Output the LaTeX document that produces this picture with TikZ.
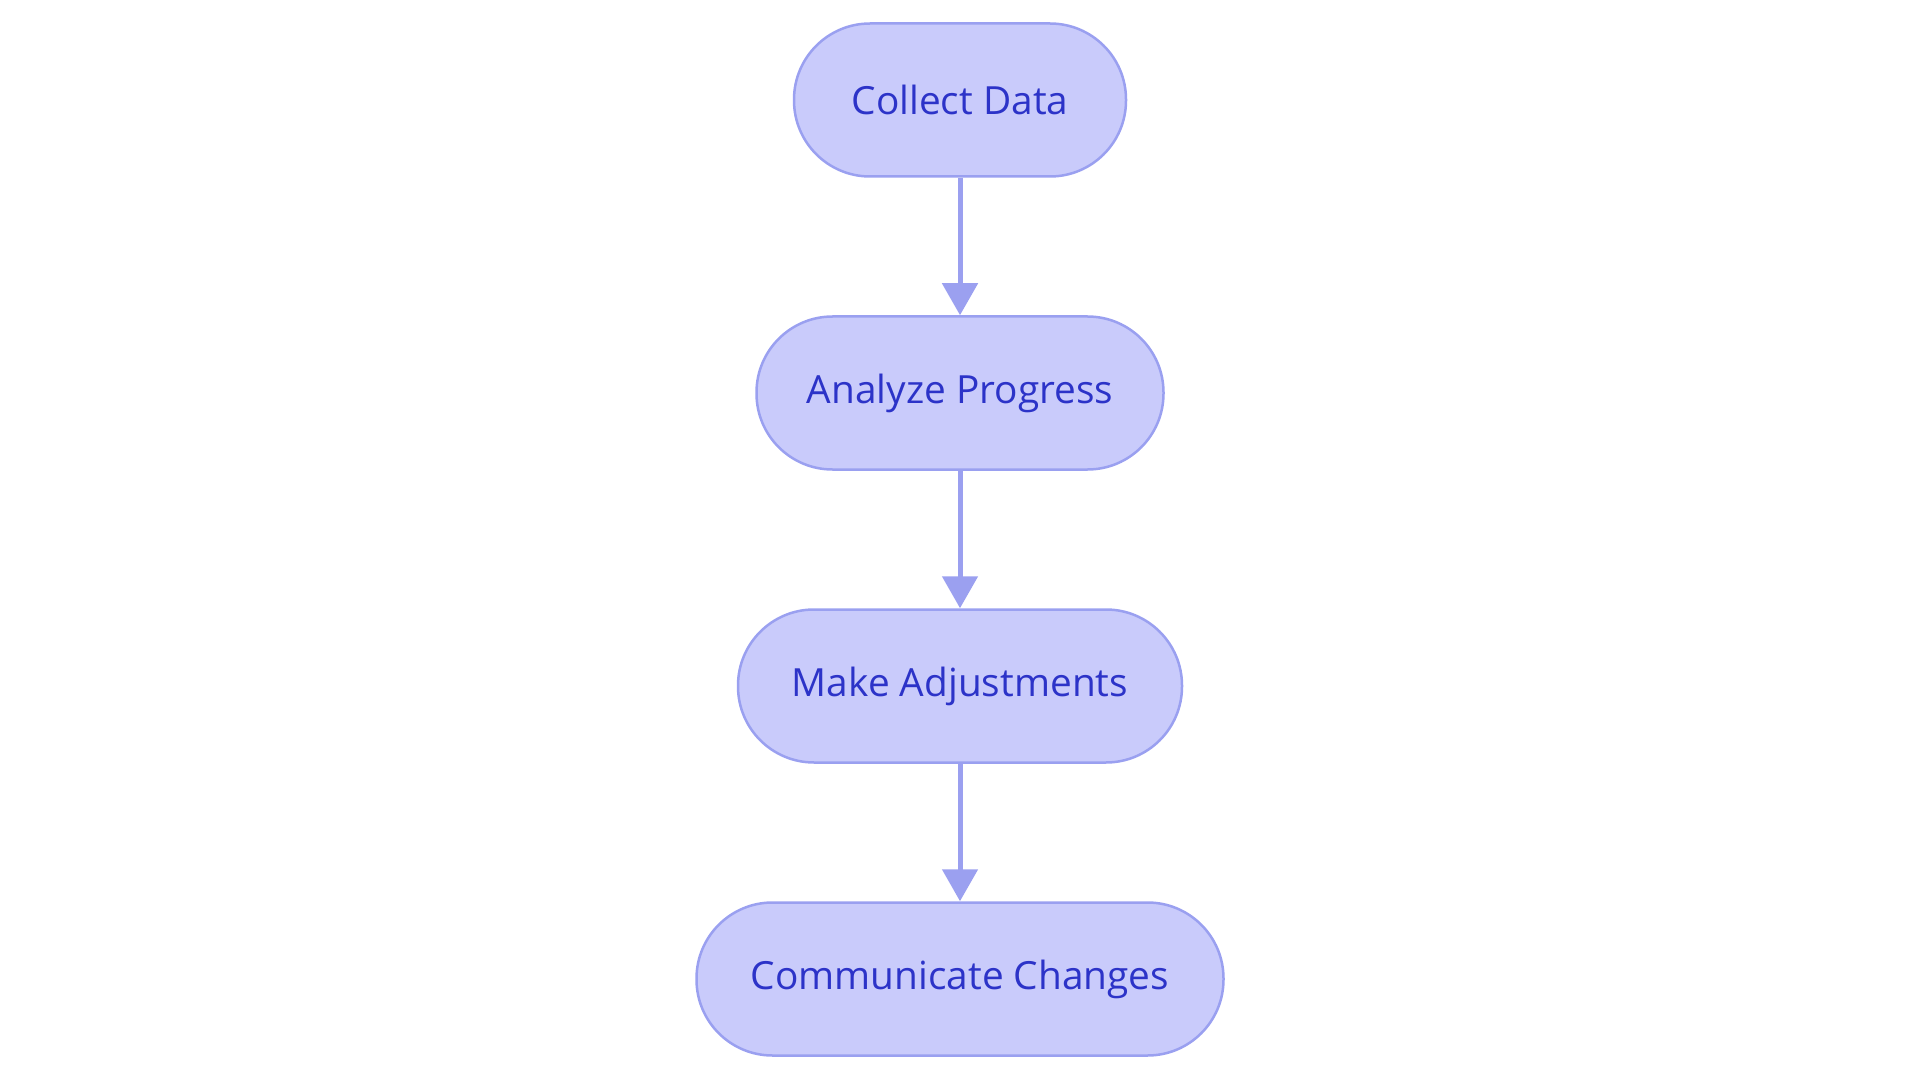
\documentclass[tikz,border=0pt]{standalone}
\usepackage{fontspec}
\setmainfont{Open Sans}
\usetikzlibrary{arrows.meta}
\definecolor{nodefill}{HTML}{C9CBFB}
\definecolor{nodeline}{HTML}{9AA0F0}
\definecolor{nodetext}{HTML}{2C33C8}
\definecolor{arrowcol}{HTML}{9BA0F0}
\tikzset{
  stadium/.style={draw=nodeline, fill=nodefill, line width=2.5pt,
    rectangle, rounded corners=76pt, minimum height=153pt,
    text=nodetext, font=\fontsize{38.8pt}{44pt}\selectfont, inner sep=0pt},
  flowarrow/.style={draw=arrowcol, line width=5pt,
    -{Triangle[length=32pt,width=35pt]}}
}
\begin{document}
\begin{tikzpicture}[x=1pt,y=-1pt]
\useasboundingbox (0,0) rectangle (1920,1083);
\node[stadium, minimum width=332pt] (collect) at (960,100) {Collect Data};
\node[stadium, minimum width=407pt] (analyze) at (960,393) {Analyze Progress};
\node[stadium, minimum width=444pt] (adjust) at (960,686) {Make Adjustments};
\node[stadium, minimum width=527pt] (comm) at (960,979) {Communicate Changes};
\draw[flowarrow] (collect) -- (analyze);
\draw[flowarrow] (analyze) -- (adjust);
\draw[flowarrow] (adjust) -- (comm);
\end{tikzpicture}
\end{document}
